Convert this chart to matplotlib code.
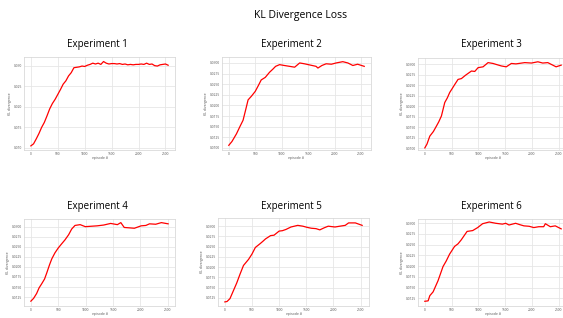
import numpy as np
import matplotlib.pyplot as plt

plt.rcParams['font.family'] = ['Open Sans', 'DejaVu Sans']

# episode positions
ep1 = [0, 50, 100, 150, 200, 250, 300, 350, 400, 450, 500, 550, 600, 650, 700, 750, 800, 850, 900, 950,
       1000, 1050, 1100, 1150, 1200, 1250, 1300, 1350, 1400, 1450, 1500, 1550, 1600, 1650, 1700, 1750,
       1800, 1850, 1900, 1950, 2000, 2050, 2100, 2150, 2200, 2250, 2300, 2350, 2400, 2450, 2500, 2550]
kl1 = [0.0105, 0.0110, 0.0122, 0.0135, 0.0150, 0.0162, 0.0178, 0.0195, 0.0208, 0.0218, 0.0230, 0.0242,
       0.0255, 0.0263, 0.0275, 0.0283, 0.0295, 0.0296, 0.0297, 0.0299, 0.0298, 0.0301, 0.0303, 0.0306,
       0.0304, 0.0306, 0.0303, 0.0310, 0.0306, 0.0304, 0.0305, 0.0305, 0.0304, 0.0305, 0.0303, 0.0304,
       0.0302, 0.0303, 0.0302, 0.0303, 0.0303, 0.0304, 0.0303, 0.0306, 0.0303, 0.0304, 0.0300, 0.0299,
       0.0302, 0.0303, 0.0304, 0.0301]

ep2 = [0, 60, 145, 210, 270, 320, 365, 430, 500, 560, 613, 690, 770, 830, 885, 960, 1050, 1150, 1245,
       1340, 1430, 1540, 1650, 1685, 1760, 1840, 1940, 2030, 2155, 2250, 2345, 2435, 2560]
kl2 = [0.0106, 0.0115, 0.0133, 0.0150, 0.0165, 0.0190, 0.0213, 0.0222, 0.0233, 0.0247, 0.0260, 0.0266,
       0.0278, 0.0285, 0.0292, 0.0296, 0.0294, 0.0292, 0.0290, 0.0300, 0.0298, 0.0295, 0.0292, 0.0288,
       0.0294, 0.0298, 0.0297, 0.0300, 0.0303, 0.0300, 0.0294, 0.0297, 0.0292]

ep3 = [0, 40, 93, 160, 217, 260, 310, 372, 420, 465, 510, 559, 620, 683, 760, 870, 932, 994, 1087,
       1180, 1273, 1350, 1430, 1520, 1615, 1700, 1865, 1990, 2110, 2200, 2295, 2450, 2545]
kl3 = [0.0101, 0.0110, 0.0129, 0.0140, 0.0153, 0.0163, 0.0177, 0.0209, 0.0220, 0.0233, 0.0242, 0.0252,
       0.0264, 0.0266, 0.0274, 0.0284, 0.0283, 0.0292, 0.0294, 0.0304, 0.0302, 0.0299, 0.0296, 0.0294,
       0.0302, 0.0301, 0.0304, 0.0303, 0.0306, 0.0303, 0.0304, 0.0294, 0.0298]

ep4 = [0, 50, 105, 150, 197, 250, 290, 340, 382, 440, 500, 560, 622, 690, 745, 806, 900, 994, 1100,
       1210, 1330, 1457, 1580, 1643, 1705, 1800, 1890, 2013, 2100, 2167, 2280, 2383, 2507]
kl4 = [0.0115, 0.0122, 0.0134, 0.0148, 0.0158, 0.0170, 0.0185, 0.0205, 0.0220, 0.0235, 0.0247, 0.0257,
       0.0267, 0.0280, 0.0294, 0.0303, 0.0305, 0.0300, 0.0301, 0.0302, 0.0304, 0.0308, 0.0305, 0.0310,
       0.0298, 0.0297, 0.0296, 0.0302, 0.0303, 0.0307, 0.0306, 0.0310, 0.0307]

ep5 = [0, 40, 94, 156, 218, 280, 343, 437, 500, 562, 656, 700, 750, 843, 906, 1000, 1060, 1125, 1218,
       1343, 1437, 1520, 1593, 1680, 1750, 1830, 1905, 2030, 2120, 2218, 2280, 2405, 2530]
kl5 = [0.0115, 0.0116, 0.0123, 0.0142, 0.0161, 0.0183, 0.0204, 0.0219, 0.0232, 0.0248, 0.0258, 0.0263,
       0.0269, 0.0277, 0.0278, 0.0288, 0.0289, 0.0292, 0.0298, 0.0302, 0.0300, 0.0297, 0.0295, 0.0294,
       0.0291, 0.0296, 0.0300, 0.0298, 0.0300, 0.0302, 0.0308, 0.0308, 0.0302]

ep6 = [0, 62, 93, 155, 247, 340, 400, 463, 556, 620, 679, 790, 895, 988, 1080, 1204, 1327, 1450, 1512,
       1574, 1697, 1770, 1852, 1950, 2037, 2130, 2222, 2253, 2346, 2438, 2549]
kl6 = [0.0118, 0.0119, 0.0131, 0.0140, 0.0166, 0.0199, 0.0212, 0.0228, 0.0246, 0.0252, 0.0261, 0.0281,
       0.0283, 0.0290, 0.0299, 0.0303, 0.0300, 0.0298, 0.0300, 0.0296, 0.0300, 0.0297, 0.0294, 0.0293,
       0.0290, 0.0292, 0.0292, 0.0299, 0.0292, 0.0294, 0.0287]

episodes = [ep1, ep2, ep3, ep4, ep5, ep6]
kl_values = [kl1, kl2, kl3, kl4, kl5, kl6]
titles = ["Experiment 1", "Experiment 2", "Experiment 3",
          "Experiment 4", "Experiment 5", "Experiment 6"]
ylims = [(0.0095, 0.0321), (0.0095, 0.0314), (0.0096, 0.0315),
         (0.0103, 0.0319), (0.0105, 0.0320), (0.0107, 0.0310)]
yticks = [np.arange(0.010, 0.0301, 0.005)] + [np.arange(0.0100, 0.0301, 0.0025)] * 2 \
         + [np.arange(0.0125, 0.0301, 0.0025)] * 3
yfmt = ["%.3f", "%.4f", "%.4f", "%.4f", "%.4f", "%.4f"]

W, H = 563, 318
fig = plt.figure(figsize=(W / 100, H / 100), dpi=100)
fig.text(0.533, 0.952, "KL Divergence Loss", ha='center', va='center', fontsize=7.5)

# axes boxes in pixels: left, top, right, bottom (right column runs past the edge)
boxes = [(24, 57, 175, 150), (222, 57, 371, 150), (418, 58, 568, 150),
         (24, 219, 175, 306), (218, 218, 369, 306), (418, 219, 568, 306)]
title_xy = [(97, 44), (291, 44), (491, 44), (97, 207), (291, 207), (491, 207)]

for i in range(6):
    l, t, r, b = boxes[i]
    ax = fig.add_axes([l / W, 1 - b / H, (r - l) / W, (b - t) / H])
    ax.plot(episodes[i], kl_values[i], color='red', linewidth=0.9)
    ax.set_ylim(*ylims[i])
    ax.set_xticks([0, 500, 1000, 1500, 2000, 2500])
    ax.set_yticks(yticks[i])
    ax.set_yticklabels([yfmt[i] % v for v in yticks[i]])
    ax.tick_params(labelsize=2.3, length=0, pad=1.5, colors='#555555')
    ax.grid(True, color='#e6e6e6', linewidth=0.6)
    ax.set_axisbelow(True)
    for s in ax.spines.values():
        s.set_color('#d9d9d9')
        s.set_linewidth(0.6)
    ax.set_xlabel("episode #", fontsize=2.5, labelpad=0.3, color='#555555')
    ax.set_ylabel("KL divergence", fontsize=2.5, labelpad=1, color='#555555')
    tx, ty = title_xy[i]
    fig.text(tx / W, 1 - ty / H, titles[i], ha='center', va='center', fontsize=7)

fig.savefig("out.png", dpi=100)
